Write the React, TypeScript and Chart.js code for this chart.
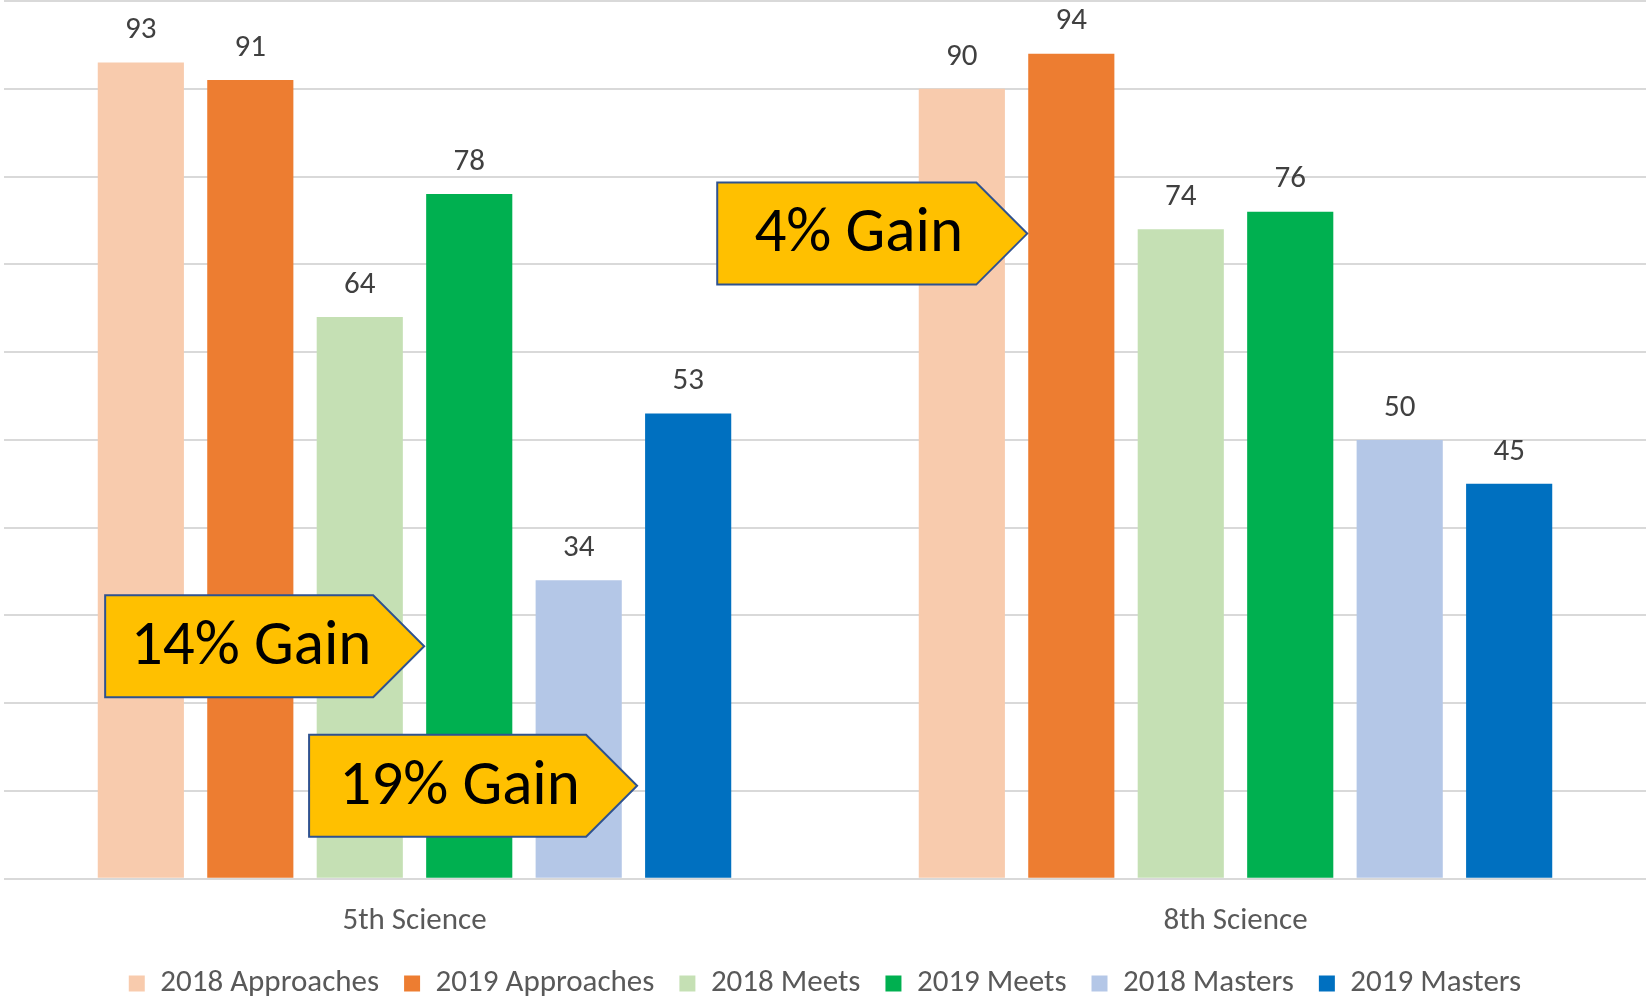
import React, { useEffect, useRef } from "react";
import { Chart, registerables } from "chart.js";

Chart.register(...registerables);

const categories = ["5th Science", "8th Science"];
const seriesNames = [
  "2018 Approaches",
  "2019 Approaches",
  "2018 Meets",
  "2019 Meets",
  "2018 Masters",
  "2019 Masters",
];
const seriesColors = ["#F8CBAD", "#ED7D31", "#C5E0B4", "#00B050", "#B4C7E7", "#0070C0"];
const approaches2018 = [93, 90];
const approaches2019 = [91, 94];
const meets2018 = [64, 74];
const meets2019 = [78, 76];
const masters2018 = [34, 50];
const masters2019 = [53, 45];
const seriesValues = [approaches2018, approaches2019, meets2018, meets2019, masters2018, masters2019];

// Callouts: text, which bar they point at (dataset, category), the value level of the tip, box width
const calloutTexts = ["14% Gain", "19% Gain", "4% Gain"];
const calloutDataset = [3, 5, 1];
const calloutCategory = [0, 0, 1];
const calloutValue = [26.5, 10.6, 73.5];
const calloutWidth = [319, 328, 310];
const calloutGap = [2, 8, 1];

const FONT = 'Carlito, Calibri, Lato, "Noto Sans", sans-serif';

const dataLabelPlugin = {
  id: "dataLabels",
  afterDatasetsDraw(chart: any) {
    const ctx = chart.ctx;
    ctx.save();
    ctx.font = `31px ${FONT}`;
    ctx.fillStyle = "#404040";
    ctx.textAlign = "center";
    ctx.textBaseline = "middle";
    chart.data.datasets.forEach((ds: any, i: number) => {
      const meta = chart.getDatasetMeta(i);
      meta.data.forEach((bar: any, j: number) => {
        ctx.fillText(String(ds.data[j]), bar.x, bar.y - 32);
      });
    });
    ctx.restore();
  },
};

const calloutPlugin = {
  id: "callouts",
  afterDraw(chart: any) {
    const ctx = chart.ctx;
    const yScale = chart.scales.y;
    ctx.save();
    calloutTexts.forEach((text, k) => {
      const bar: any = chart.getDatasetMeta(calloutDataset[k]).data[calloutCategory[k]];
      const tipX = bar.x - bar.width / 2 - calloutGap[k];
      const tipY = yScale.getPixelForValue(calloutValue[k]);
      const half = 51;
      const L = tipX - calloutWidth[k];
      const R = tipX - half;
      const T = tipY - half;
      const B = tipY + half;
      ctx.beginPath();
      ctx.moveTo(L, T);
      ctx.lineTo(R, T);
      ctx.lineTo(tipX, tipY);
      ctx.lineTo(R, B);
      ctx.lineTo(L, B);
      ctx.closePath();
      ctx.fillStyle = "#FFC000";
      ctx.fill();
      ctx.lineWidth = 2;
      ctx.strokeStyle = "#2F528F";
      ctx.stroke();
      ctx.fillStyle = "#000000";
      ctx.font = `63px ${FONT}`;
      ctx.textAlign = "center";
      ctx.textBaseline = "middle";
      ctx.fillText(text, (L + R) / 2 + 12, tipY + 2);
    });
    ctx.restore();
  },
};

export default function App() {
  const ref = useRef<HTMLCanvasElement | null>(null);
  useEffect(() => {
    if (!ref.current) return;
    const chart = new Chart(ref.current, {
      type: "bar",
      data: {
        labels: categories,
        datasets: seriesNames.map((name, i) => ({
          label: name,
          data: seriesValues[i],
          backgroundColor: seriesColors[i],
          borderWidth: 0,
          barPercentage: 0.787,
          categoryPercentage: 0.8,
        })),
      },
      options: {
        responsive: false,
        animation: false,
        layout: { padding: { left: 4, right: 0, top: 1, bottom: -9 } },
        plugins: {
          legend: {
            position: "bottom",
            labels: {
              boxWidth: 16,
              boxHeight: 16,
              padding: 25,
              color: "#595959",
              font: { family: FONT, size: 31 },
            },
          },
          tooltip: { enabled: false },
        },
        scales: {
          x: {
            grid: { display: false, drawTicks: false },
            border: { display: false },
            ticks: { color: "#595959", font: { family: FONT, size: 31 }, padding: 24 },
            afterFit: (scale: any) => {
              scale.height -= 21;
            },
          },
          y: {
            min: 0,
            max: 100,
            ticks: { display: false, stepSize: 10 },
            grid: { color: "#D9D9D9", lineWidth: 2, drawTicks: false },
            border: { display: false },
          },
        },
      },
      plugins: [dataLabelPlugin, calloutPlugin],
    });
    return () => chart.destroy();
  }, []);
  return (
    <div style={{ position: "absolute", left: 0, top: 0, width: 1646, height: 1000, background: "#fff" }}>
      <canvas ref={ref} width={1646} height={1000} />
    </div>
  );
}
